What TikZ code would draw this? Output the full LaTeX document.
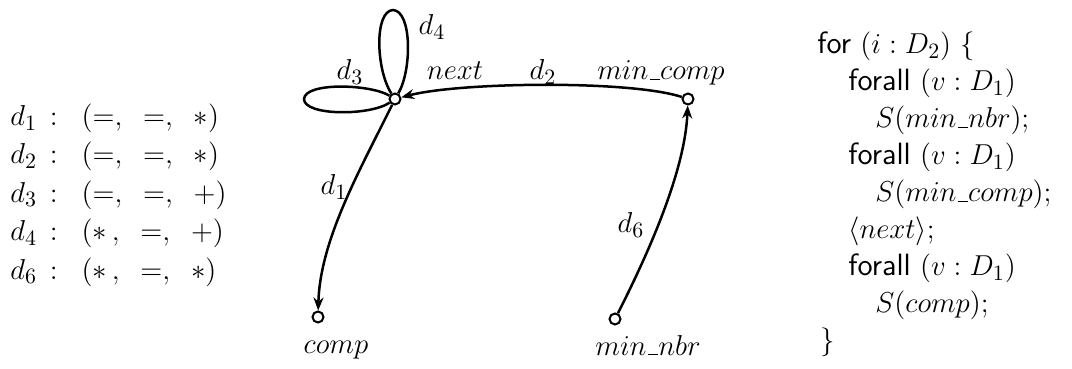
\documentclass[tikz,border=0pt]{standalone}
\usetikzlibrary{arrows.meta}
\newcommand\usc{\kern.06em\vbox{\hrule width.32em height 0.7pt}}
\begin{document}
\begin{tikzpicture}[x=0.5pt,y=-0.5pt,
  font=\fontsize{15.4}{18.5}\selectfont,
  vert/.style={circle,draw,line width=1pt,minimum size=5.5pt,inner sep=0pt},
  edge/.style={line width=1.25pt,-{Stealth[length=6.5pt,width=5pt]}},
  loopedge/.style={line width=1.25pt},
  lbl/.style={anchor=base,inner sep=0pt},
  code/.style={anchor=base west,inner sep=0pt}]
\useasboundingbox (0,0) rectangle (1072,369);

% vertices
\node[vert] (next) at (395,99) {};
\node[vert] (mincomp) at (688,99) {};
\node[vert] (comp) at (318,317) {};
\node[vert] (minnbr) at (615,319) {};

% edges
\draw[edge] (mincomp) .. controls (630,80) and (460,82) .. (next);
\draw[edge] (next) .. controls (360,170) and (320,240) .. (comp);
\draw[edge] (minnbr) .. controls (650,250) and (685,170) .. (mincomp);
\draw[loopedge] (next) .. controls (370,84) and (305,82) .. (304,99)
                       .. controls (304,116) and (370,116) .. (next);
\draw[loopedge] (next) .. controls (376,70) and (374,11) .. (393,10)
                       .. controls (412,11) and (412,70) .. (next);

% labels
\node[lbl] (l4) at (432,35) {$d_4$};
\node[lbl] (l3) at (350,80) {$d_3$};
\node[lbl] (lnext) at (455,80) {$next$};
\node[lbl] (l2) at (543,80) {$d_2$};
\node[lbl] (lmc) at (661,80) {$min\usc comp$};
\node[lbl] (l1) at (334,195) {$d_1$};
\node[lbl] (l6) at (631,233) {$d_6$};
\node[lbl] (lc) at (336,353) {$comp$};
\node[lbl] (lmn) at (648,355) {$min\usc nbr$};

% dependence list
\node[code] (r1) at (10,126) {$d_1\,:\;\;(=,\;\;=,\;\;*)$};
\node[code] (r2) at (10,164) {$d_2\,:\;\;(=,\;\;=,\;\;*)$};
\node[code] (r3) at (10,202.5) {$d_3\,:\;\;(=,\;\;=,\;\;+)$};
\node[code] (r4) at (10,241) {$d_4\,:\;\;(*\,,\;\;=,\;\;+)$};
\node[code] (r6) at (10,279) {$d_6\,:\;\;(*\,,\;\;=,\;\;*)$};

% code
\node[code] (c1) at (817,54) {\textsf{for} $(i:D_2)$ $\{$};
\node[code] (c2) at (848,91) {\textsf{forall} $(v:D_1)$};
\node[code] (c3) at (875,128) {$S(min\usc nbr);$};
\node[code] (c4) at (848,165) {\textsf{forall} $(v:D_1)$};
\node[code] (c5) at (875,202) {$S(min\usc comp);$};
\node[code] (c6) at (848,239) {$\langle next\rangle;$};
\node[code] (c7) at (848,276) {\textsf{forall} $(v:D_1)$};
\node[code] (c8) at (875,313) {$S(comp);$};
\node[code] (c9) at (820,350) {$\}$};
\end{tikzpicture}
\end{document}
